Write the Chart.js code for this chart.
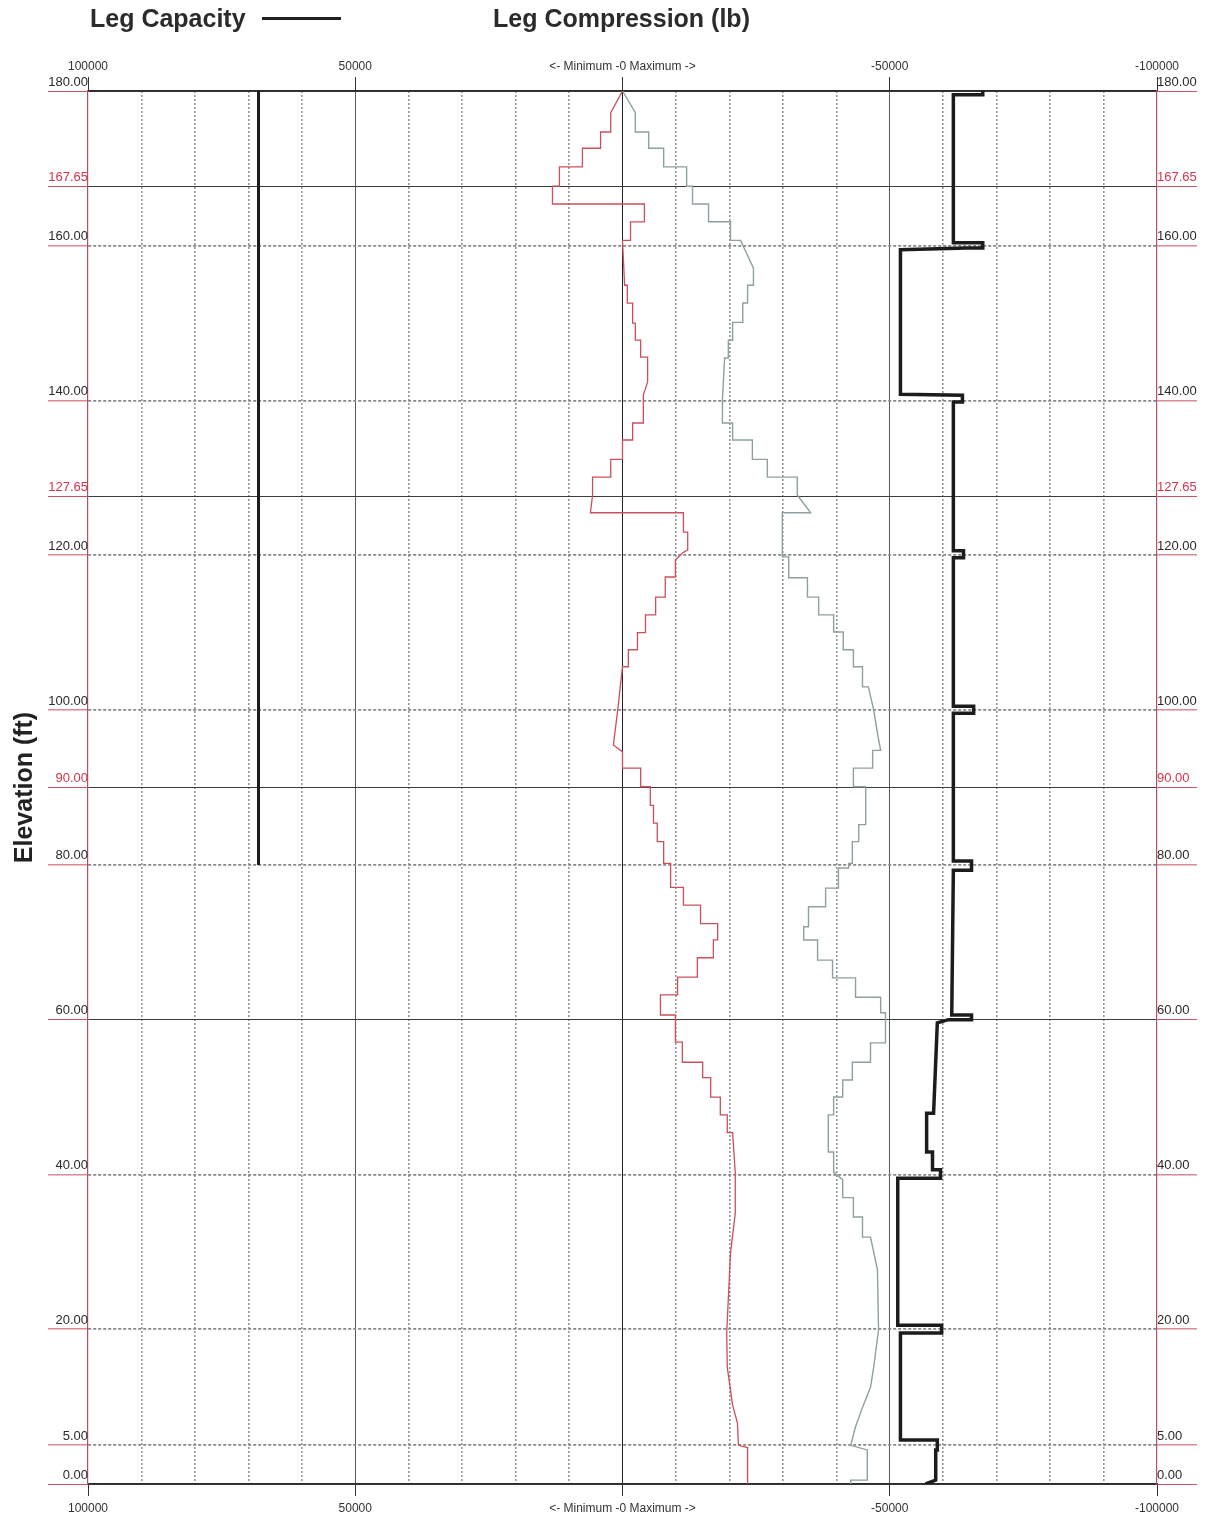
<!DOCTYPE html>
<html>
<head>
<meta charset="utf-8">
<script src="https://cdn.jsdelivr.net/npm/chart.js@4.4.1/dist/chart.umd.min.js"></script>
<style>
  body { margin: 0; background: #fff; font-family: "Liberation Sans", Arial, sans-serif; }
  #wrap { position: relative; width: 1209px; height: 1522px; }
  #chart { position: absolute; left: 0; top: 0; }
  .head { position: absolute; top: 4px; font-weight: bold; font-size: 25px; color: #2b2b2b; }
  #legLine { position: absolute; left: 262px; top: 17px; width: 79px; height: 3px; background: #222; }
</style>
</head>
<body>
<div id="wrap">
  <canvas id="chart" width="1209" height="1522"></canvas>
  <div class="head" style="left:90px">Leg Capacity</div>
  <div id="legLine"></div>
  <div class="head" style="left:493px">Leg Compression (lb)</div>
</div>
<script>
// section elevations (ft) shown on both sides
const sectionTicks = [0, 5, 20, 40, 60, 80, 90, 100, 120, 127.65, 140, 160, 167.65, 180];
const redTicks = [167.65, 127.65, 90];
const solidTicks = [0, 60, 90, 127.65, 167.65, 180];

// load axis (lb), reversed: +100000 on the left
const xGrid = [100000, 90000, 80000, 70000, 60000, 50000, 40000, 30000, 20000, 10000, 0,
  -10000, -20000, -30000, -40000, -50000, -60000, -70000, -80000, -90000, -100000];
const xMajor = [100000, 50000, 0, -50000, -100000];
const xMajorLabels = ["100000", "50000", "<- Minimum -0 Maximum ->", "-50000", "-100000"];

// [elevation ft, load lb]
const capLeft = [[180, 68100], [80, 68100]];

const capRight = [[180, -67400], [179.5, -67400], [179.5, -61900], [160.4, -61900], [160.4, -67400],
  [159.7, -67400], [159.7, -64400], [159.5, -52000], [140.8, -52000], [140.7, -63600], [139.8, -63600],
  [139.8, -61900], [120.6, -61900], [120.6, -63800], [119.7, -63800], [119.7, -61900], [100.5, -61900],
  [100.5, -65700], [99.6, -65700], [99.6, -61900], [80.5, -61900], [80.5, -65300], [79.3, -65300],
  [79.3, -61900], [60.6, -61600], [60.6, -65300], [60.0, -65300], [60.0, -61000], [59.6, -58900],
  [47.9, -58200], [47.9, -56900], [42.9, -56900], [42.9, -58000], [40.6, -58000], [40.6, -59500],
  [39.5, -59500], [39.5, -51500], [20.5, -51500], [20.5, -59700], [19.5, -59700], [19.5, -52000],
  [5.7, -52000], [5.7, -58900], [4.4, -58900], [4.4, -58600], [0.5, -58600], [0, -56700]];

const minLine = [[180, 0], [177.2, 2200], [174.7, 2200], [174.7, 4100], [172.6, 4100], [172.6, 7500],
  [170.2, 7500], [170.2, 11800], [167.7, 11800], [167.7, 13100], [165.4, 13100], [165.4, -4100],
  [163.1, -4100], [163.1, -1500], [160.7, -1500], [160.7, 0], [154.9, -400], [154.9, -900],
  [152.6, -900], [152.6, -1900], [150.0, -1900], [150.0, -2400], [147.8, -2400], [147.8, -3400],
  [145.6, -3400], [145.6, -4700], [142.4, -4700], [140.7, -3900], [137.1, -3900], [137.1, -1900],
  [134.9, -1900], [134.9, 0], [132.4, 0], [132.4, 2200], [130.1, 2200], [130.1, 5600], [127.8, 5600],
  [125.5, 6000], [125.5, -11400], [123.0, -11400], [123.0, -12200], [120.7, -12200], [120.3, -11200],
  [119.4, -9900], [117.2, -9900], [117.2, -8000], [114.6, -8000], [114.6, -6200], [112.3, -6200],
  [112.3, -4300], [110.0, -4300], [110.0, -2800], [107.8, -2800], [107.8, -1100], [105.6, -1100],
  [105.6, 0], [100.0, 900], [95.5, 1700], [94.6, 0], [92.5, 0], [92.5, -3400], [90.1, -3400],
  [90.1, -5200], [87.7, -5200], [87.7, -5800], [85.4, -5800], [85.4, -6500], [83.0, -6500],
  [83.0, -7700], [80.2, -7700], [80.2, -9000], [77.1, -9000], [77.1, -11400], [74.8, -11400],
  [74.8, -14600], [72.4, -14600], [72.4, -17800], [70.3, -17800], [70.3, -17000], [68.0, -17000],
  [68.0, -14000], [65.5, -14000], [65.5, -10300], [63.2, -10300], [63.2, -7100], [60.6, -7100],
  [60.6, -9900], [57.1, -9900], [57.1, -11200], [54.5, -11200], [54.5, -15000], [52.5, -15000],
  [52.5, -16500], [50.0, -16500], [50.0, -18300], [47.7, -18300], [47.7, -19600], [45.4, -19600],
  [45.4, -20600], [40.2, -21100], [35.0, -21100], [29.8, -20200], [19.5, -19500], [15.1, -19600],
  [10.2, -20600], [7.9, -21500], [5.0, -21700], [4.7, -23400], [0, -23400]];

const maxLine = [[180, 0], [177.2, -2400], [174.7, -2400], [174.7, -4900], [172.6, -4900], [172.6, -7700],
  [170.2, -7700], [170.2, -12000], [167.7, -12000], [167.7, -13100], [165.4, -13100], [165.4, -16100],
  [163.1, -16100], [163.1, -20200], [160.7, -20200], [160.7, -22100], [157.1, -24500], [154.9, -24500],
  [154.9, -23400], [152.6, -23400], [152.6, -22500], [150.1, -22500], [150.1, -20600], [147.8, -20600],
  [147.8, -19800], [145.5, -19800], [145.5, -19100], [140.1, -18700], [137.1, -18700], [137.1, -20600],
  [134.9, -20600], [134.9, -24300], [132.4, -24300], [132.4, -27100], [130.1, -27100], [130.1, -32700],
  [127.8, -32700], [125.5, -35200], [125.5, -29900], [119.8, -29900], [119.8, -31100], [117.1, -31100],
  [117.1, -34600], [114.6, -34600], [114.6, -36700], [112.3, -36700], [112.3, -39500], [110.1, -39500],
  [110.1, -41300], [107.8, -41300], [107.8, -43200], [105.6, -43200], [105.6, -44900], [103.0, -44900],
  [103.0, -46000], [100.0, -47000], [97.0, -47700], [94.8, -48300], [94.8, -46800], [92.5, -46800],
  [92.5, -43200], [90.1, -43200], [90.1, -45500], [85.2, -45500], [85.2, -44200], [83.0, -44200],
  [83.0, -43000], [80.2, -43000], [80.2, -42300], [79.6, -42300], [79.6, -40400], [77.0, -40400],
  [77.0, -38000], [74.6, -38000], [74.6, -34800], [72.0, -34800], [72.0, -33900], [70.3, -33900],
  [70.3, -36500], [67.7, -36500], [67.7, -39300], [65.4, -39300], [65.4, -43600], [62.9, -43600],
  [62.9, -48300], [60.9, -48300], [60.9, -49200], [57.0, -49200], [57.0, -46400], [54.5, -46400],
  [54.5, -43000], [52.2, -43000], [52.2, -41200], [50.0, -41200], [50.0, -39500], [47.7, -39500],
  [47.7, -38500], [42.9, -38500], [42.9, -39500], [40.3, -39500], [39.3, -41200], [37.0, -41200],
  [37.0, -43200], [34.5, -43200], [34.5, -44900], [31.9, -44900], [31.9, -46400], [27.7, -47700],
  [19.9, -47900], [15.1, -47000], [12.5, -46400], [9.9, -44900], [7.4, -43600], [5.0, -42700],
  [4.4, -45800], [0.5, -45800], [0.5, -42700], [0, -42700]];

Chart.defaults.font.family = '"Liberation Sans", Arial, sans-serif';

const pts = (arr) => arr.map(([e, v]) => ({ x: v, y: e }));

function lineSet(label, arr, color, width) {
  return {
    label, data: pts(arr), showLine: true, pointRadius: 0,
    borderColor: color, borderWidth: width, borderJoinStyle: "miter", fill: false,
  };
}

function yAxis(pos) {
  const left = pos === "left";
  return {
    type: "linear", position: pos, min: 0, max: 180,
    afterBuildTicks: (s) => { s.ticks = sectionTicks.map((v) => ({ value: v })); },
    afterFit: (s) => { s.width = left ? 88 : 52; },
    ticks: {
      autoSkip: false, padding: -40, labelOffset: -9,
      font: { size: 13 },
      color: (c) => (c.tick && redTicks.includes(c.tick.value) ? "#d6334c" : "#2a2a2a"),
      callback: (v) => Number(v).toFixed(2),
    },
    grid: {
      drawOnChartArea: left,
      tickLength: 40, tickWidth: 1, tickColor: "#c9505e",
      color: (c) => (c.tick && solidTicks.includes(c.tick.value) ? "#3c3c3c" : "#888"),
      lineWidth: (c) => (c.tick && solidTicks.includes(c.tick.value) ? 1 : 1.7),
    },
    border: {
      color: "#b4505c", width: 1.2,
      dash: (c) => (c.tick && !solidTicks.includes(c.tick.value) ? [3, 2] : []),
    },
    title: left
      ? { display: true, text: "Elevation (ft)", color: "#222", font: { size: 25, weight: "bold" }, padding: { top: 10, bottom: 0 } }
      : { display: false },
  };
}

function xAxis(pos) {
  const top = pos === "top";
  const isMajor = (c) => c.tick && xMajor.includes(c.tick.value);
  return {
    type: "linear", position: pos, reverse: true, min: -100000, max: 100000,
    afterBuildTicks: (s) => { s.ticks = xGrid.map((v) => ({ value: v })); },
    afterFit: (s) => { s.height = top ? 91 : 38; },
    ticks: {
      autoSkip: false, maxRotation: 0, minRotation: 0, padding: top ? 3 : 5,
      font: { size: 12 }, color: "#333",
      callback: (v) => { const i = xMajor.indexOf(v); return i >= 0 ? xMajorLabels[i] : ""; },
    },
    grid: {
      drawOnChartArea: !top,
      tickLength: top ? 14 : 12,
      tickColor: (c) => (isMajor(c) ? "#333" : "rgba(0,0,0,0)"),
      color: (c) => {
        if (!c.tick) return "#999";
        const v = c.tick.value;
        if (Math.abs(v) === 100000) return "rgba(0,0,0,0)";
        if (v === 0) return "#222";
        if (Math.abs(v) === 50000) return "#5a5a5a";
        return "#959595";
      },
      lineWidth: (c) => (isMajor(c) ? 1 : 1.6),
    },
    border: {
      color: "#2a2a2a", width: 1.3,
      dash: (c) => (c.tick && !xMajor.includes(c.tick.value) ? [2, 2] : []),
    },
  };
}

new Chart(document.getElementById("chart"), {
  type: "scatter",
  data: {
    datasets: [
      lineSet("Minimum", minLine, "#c9505c", 1.3),
      lineSet("Maximum", maxLine, "#8ea0a0", 1.4),
      lineSet("Leg Capacity", capLeft, "#1c1c1c", 3),
      lineSet("Leg Capacity (min)", capRight, "#1c1c1c", 3.5),
    ],
  },
  options: {
    responsive: false,
    animation: false,
    layout: { padding: 0 },
    plugins: { legend: { display: false }, tooltip: { enabled: false } },
    scales: {
      x: xAxis("bottom"),
      x2: xAxis("top"),
      y: yAxis("left"),
      y2: yAxis("right"),
    },
  },
});
</script>
</body>
</html>
